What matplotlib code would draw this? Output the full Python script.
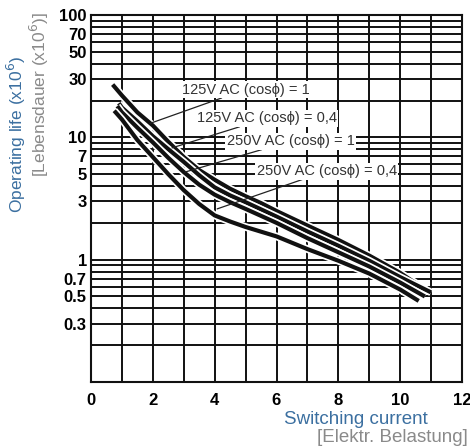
import matplotlib
matplotlib.use('Agg')
import matplotlib.pyplot as plt
import matplotlib.patheffects as pe

plt.rcParams['font.family'] = ['Liberation Sans', 'DejaVu Sans']

# curves (current in A, life in 10^6 operations)
x_125_1 = [0.7, 1.0, 1.5, 2.0, 2.5, 3.0, 3.5, 4.0, 4.5, 5.0, 5.5, 6.0, 7.0, 8.0, 9.0, 10.0, 10.9]
y_125_1 = [27, 22, 16, 12.5, 9.2, 6.9, 5.4, 4.5, 3.8, 3.3, 2.9, 2.5, 1.9, 1.45, 1.08, 0.78, 0.55]

x_125_04 = [0.9, 1.0, 1.5, 2.0, 2.5, 3.0, 3.5, 4.0, 4.5, 5.0, 6.0, 7.0, 8.0, 9.0, 10.0, 11.0]
y_125_04 = [19, 17.5, 13.5, 10.2, 8.0, 6.3, 4.9, 3.9, 3.35, 2.95, 2.25, 1.7, 1.3, 0.98, 0.72, 0.54]

x_250_1 = [0.85, 1.0, 1.5, 2.0, 2.5, 3.0, 3.5, 4.0, 4.5, 5.0, 6.0, 7.0, 8.0, 9.0, 10.0, 10.8]
y_250_1 = [18, 16, 12, 9.1, 6.8, 5.2, 4.1, 3.4, 2.95, 2.6, 2.0, 1.5, 1.15, 0.88, 0.65, 0.5]

x_250_04 = [0.75, 1.0, 1.5, 2.0, 2.5, 3.0, 3.5, 4.0, 4.5, 5.0, 6.0, 7.0, 8.0, 9.0, 10.0, 10.6]
y_250_04 = [16.5, 14, 9.5, 6.9, 5.0, 3.7, 2.85, 2.3, 2.05, 1.85, 1.55, 1.22, 0.98, 0.77, 0.57, 0.46]

labels = ['125V AC (cosϕ) = 1', '125V AC (cosϕ) = 0,4',
          '250V AC (cosϕ) = 1', '250V AC (cosϕ) = 0,4']
label_xy = [(2.93, 24.6), (3.42, 14.3), (4.39, 9.3), (5.36, 5.3)]
arrow_xy = [(1.91, 13.0), (2.62, 8.2), (3.04, 5.2), (4.08, 2.6)]

y_major = [0.3, 0.5, 0.7, 1, 3, 5, 7, 10, 30, 50, 70, 100]
y_major_labels = ['0.3', '0.5', '0.7', '1', '3', '5', '7', '10', '30', '50', '70', '100']
y_minor = [0.2, 0.4, 0.6, 0.8, 0.9, 2, 4, 6, 8, 9, 20, 40, 60, 80, 90]
x_ticks = [0, 2, 4, 6, 8, 10, 12]

blue = '#3b6fa0'
grey = '#8a8a8a'

fig = plt.figure(figsize=(4.7, 4.47), dpi=100)
ax = fig.add_axes([91 / 470, 65 / 447, 371 / 470, 367 / 447])

ax.set_yscale('log')
ax.set_xlim(0, 12)
ax.set_ylim(0.1, 100)

ax.set_yticks(y_major)
ax.set_yticklabels(y_major_labels)
ax.set_yticks(y_minor, minor=True)
ax.yaxis.set_minor_formatter(plt.NullFormatter())
ax.set_xticks(x_ticks)
ax.set_xticks(range(13), minor=True)

ax.tick_params(which='both', length=0)
ax.tick_params(axis='y', pad=3, labelsize=12)
ax.tick_params(axis='x', pad=8, labelsize=12)
for t in ax.get_xticklabels() + ax.get_yticklabels():
    t.set_fontweight('bold')

ax.grid(True, which='both', color='#111111', linewidth=1.4)
for s in ax.spines.values():
    s.set_linewidth(1.5)
    s.set_color('#111111')

curve_fx = [pe.Stroke(linewidth=5.5, foreground='white'), pe.Normal()]
for xs, ys in [(x_125_1, y_125_1), (x_125_04, y_125_04),
               (x_250_1, y_250_1), (x_250_04, y_250_04)]:
    ax.plot(xs, ys, color='#111111', linewidth=3.0, solid_capstyle='butt',
            solid_joinstyle='round', path_effects=curve_fx, zorder=3)

for lab, (tx, ty), (ax_, ay) in zip(labels, label_xy, arrow_xy):
    ax.annotate(lab, xy=(ax_, ay), xytext=(tx, ty), fontsize=10.5,
                color='#333333', va='center', ha='left',
                bbox=dict(boxstyle='square,pad=0.1', fc='white', ec='none'),
                arrowprops=dict(arrowstyle='-', color='#222222', lw=0.9,
                                shrinkA=0, shrinkB=0),
                zorder=5)

fig.text(16 / 470, 1 - 134 / 447, 'Operating life (x10$^6$)', color=blue,
         rotation=90, fontsize=12.5, ha='center', va='center')
fig.text(39 / 470, 1 - 95 / 447, '[Lebensdauer (x10$^6$)]', color=grey,
         rotation=90, fontsize=12.5, ha='center', va='center')
fig.text(428 / 470, 1 - 419 / 447, 'Switching current', color=blue,
         fontsize=13.5, ha='right', va='center')
fig.text(468 / 470, 1 - 437 / 447, '[Elektr. Belastung]', color=grey,
         fontsize=13.5, ha='right', va='center')

fig.savefig('out.png', dpi=100)
